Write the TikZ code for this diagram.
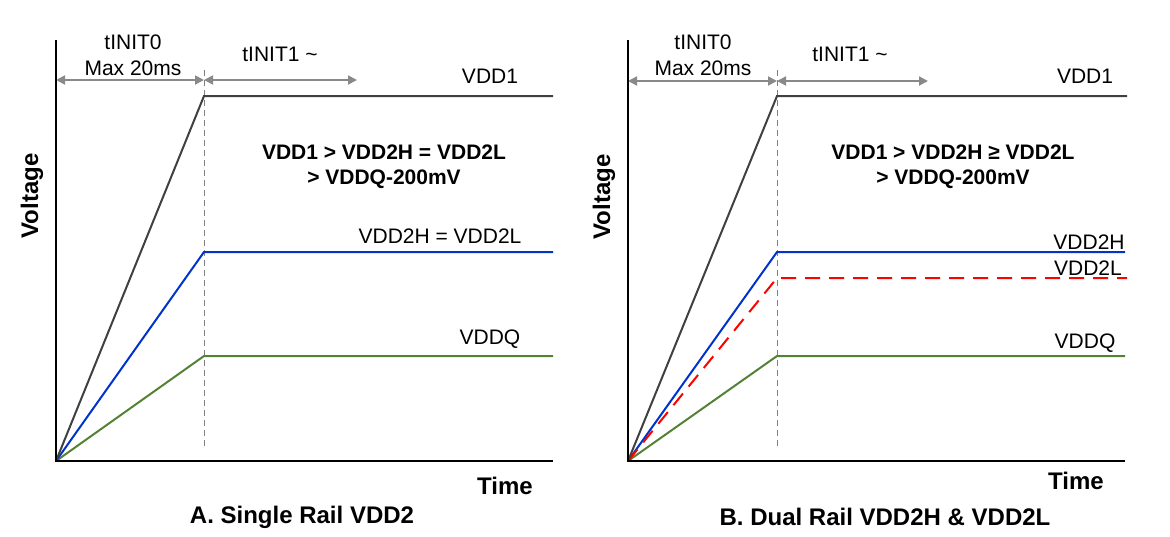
\documentclass[tikz,border=0pt]{standalone}
\usepackage{fontspec}
\setmainfont{Liberation Sans}
\usetikzlibrary{arrows.meta}
\definecolor{spangray}{RGB}{137,137,137}
\definecolor{railone}{RGB}{64,64,64}
\definecolor{railtwo}{RGB}{0,51,204}
\definecolor{railq}{RGB}{84,130,53}
\definecolor{railtwol}{RGB}{255,0,0}

\begin{document}
\begin{tikzpicture}[x=1pt,y=-1pt]
\tikzstyle{axis} = [line width=2.5pt, black]
\tikzstyle{span} = [line width=1.8pt, draw=spangray, {Triangle[length=9pt,width=9pt]}-{Triangle[length=9pt,width=9pt]}]
\tikzstyle{guide} = [line width=0.8pt, draw=gray, dash pattern=on 6pt off 4pt]
\tikzstyle{rail} = [line width=2pt]
\tikzstyle{lbl} = [font=\fontsize{21}{25}\selectfont, inner sep=0pt]
\tikzstyle{cond} = [font=\fontsize{21}{25}\selectfont\bfseries, align=center, inner sep=0pt]
\tikzstyle{big} = [font=\fontsize{24}{28}\selectfont\bfseries, inner sep=0pt]
\useasboundingbox (0,0) rectangle (1170,536);

% A. single rail
\coordinate (a-o) at (56,461);
\coordinate (a-top) at (56,40);
\coordinate (a-end) at (553,461);
\coordinate (a-k1) at (204,96);
\coordinate (a-e1) at (553,96);
\coordinate (a-k2) at (204,252);
\coordinate (a-e2) at (553,252);
\coordinate (a-k3) at (204,356);
\coordinate (a-e3) at (553,356);
\coordinate (a-g1) at (204,70);
\coordinate (a-g2) at (204,448);
\coordinate (a-s0) at (56,80);
\coordinate (a-s1) at (204,80);
\coordinate (a-s2) at (357,80);

\draw[guide] (a-g1) -- (a-g2);
\draw[span] (a-s0) -- (a-s1);
\draw[span] (a-s1) -- (a-s2);
\draw[rail, railq] (a-o) -- (a-k3) -- (a-e3);
\draw[rail, railtwo] (a-o) -- (a-k2) -- (a-e2);
\draw[rail, railone] (a-o) -- (a-k1) -- (a-e1);
\draw[axis] (a-top) -- (a-o) -- (a-end);

\node[lbl] (a-init0) at (133,42) {tINIT0};
\node[lbl] (a-max) at (133,68) {Max 20ms};
\node[lbl] (a-init1) at (280,54) {tINIT1 \textasciitilde};
\node[lbl] (a-vdd1) at (490,76) {VDD1};
\node[lbl] (a-vdd2) at (440,236) {VDD2H = VDD2L};
\node[lbl] (a-vddq) at (490,339) {VDDQ};
\node[cond] (a-cond) at (384,167) {VDD1 > VDD2H = VDD2L\\> VDDQ-200mV};
\node[big, rotate=90] (a-volt) at (32,196) {Voltage};
\node[big] (a-time) at (505,486) {Time};
\node[big] (a-title) at (302,517) {A. Single Rail VDD2};

% B. dual rail
\coordinate (b-o) at (628,461);
\coordinate (b-top) at (628,40);
\coordinate (b-end) at (1125,461);
\coordinate (b-k1) at (777,96);
\coordinate (b-e1) at (1127,96);
\coordinate (b-k2) at (777,252);
\coordinate (b-e2) at (1125,252);
\coordinate (b-kl) at (777,278);
\coordinate (b-el) at (1127,278);
\coordinate (b-k3) at (777,356);
\coordinate (b-e3) at (1125,356);
\coordinate (b-g1) at (777,70);
\coordinate (b-g2) at (777,448);
\coordinate (b-s0) at (628,81);
\coordinate (b-s1) at (777,81);
\coordinate (b-s2) at (928,81);

\draw[guide] (b-g1) -- (b-g2);
\draw[span] (b-s0) -- (b-s1);
\draw[span] (b-s1) -- (b-s2);
\draw[rail, railq] (b-o) -- (b-k3) -- (b-e3);
\draw[rail, railtwo] (b-o) -- (b-k2) -- (b-e2);
\draw[rail, railtwol, dash pattern=on 15pt off 9pt] (b-o) -- (b-kl) -- (b-el);
\draw[rail, railone] (b-o) -- (b-k1) -- (b-e1);
\draw[axis] (b-top) -- (b-o) -- (b-end);

\node[lbl] (b-init0) at (703,42) {tINIT0};
\node[lbl] (b-max) at (703,68) {Max 20ms};
\node[lbl] (b-init1) at (850,54) {tINIT1 \textasciitilde};
\node[lbl] (b-vdd1) at (1085,76) {VDD1};
\node[lbl] (b-vdd2h) at (1089,242) {VDD2H};
\node[lbl] (b-vdd2l) at (1088,268) {VDD2L};
\node[lbl] (b-vddq) at (1085,343) {VDDQ};
\node[cond] (b-cond) at (953,167) {VDD1 > VDD2H ≥ VDD2L\\> VDDQ-200mV};
\node[big, rotate=90] (b-volt) at (604,197) {Voltage};
\node[big] (b-time) at (1076,481) {Time};
\node[big] (b-title) at (885,517) {B. Dual Rail VDD2H \& VDD2L};
\end{tikzpicture}
\end{document}
